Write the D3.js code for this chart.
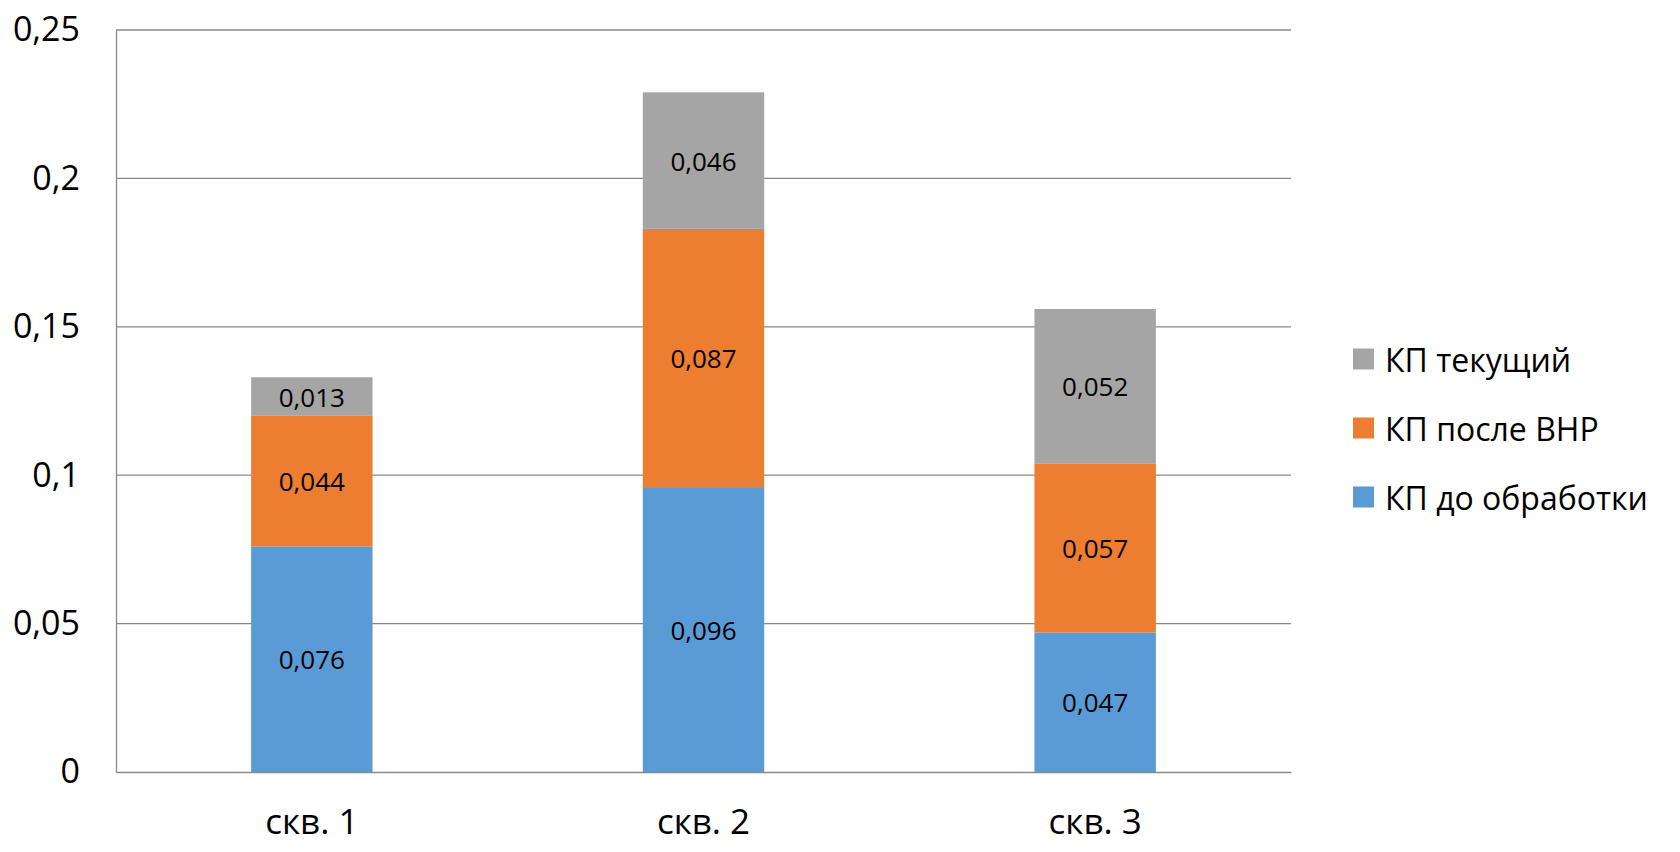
<!DOCTYPE html>
<html>
<head>
<meta charset="utf-8">
<script src="https://cdn.jsdelivr.net/npm/d3@7"></script>
<style>
  body { margin: 0; background: #fff; }
  text { font-family: "Open Sans", "Noto Sans", sans-serif; fill: #000; }
</style>
</head>
<body>
<div id="chart"></div>
<script>
const wells = ["скв. 1", "скв. 2", "скв. 3"];
const seriesNames = ["КП до обработки", "КП после ВНР", "КП текущий"];
const before = [0.076, 0.096, 0.047];
const afterVnr = [0.044, 0.087, 0.057];
const current = [0.013, 0.046, 0.052];
const yTicks = [0, 0.05, 0.1, 0.15, 0.2, 0.25];
const colors = ["#5b9bd5", "#ed7d31", "#a5a5a5"];

const W = 1680, H = 852;
const margin = {left: 116, right: 389, top: 30, bottom: 80};

const svg = d3.select("#chart").append("svg")
    .attr("width", W)
    .attr("height", H);

const x = d3.scaleBand()
    .domain(wells)
    .range([margin.left, W - margin.right])
    .paddingInner(0.69)
    .paddingOuter(0.345);

const y = d3.scaleLinear()
    .domain([0, 0.25])
    .range([H - margin.bottom, margin.top]);

const fmt = v => String(v).replace(".", ",");

// gridlines
svg.append("g")
    .selectAll("line")
    .data(yTicks.slice(1))
    .enter().append("line")
        .attr("x1", margin.left)
        .attr("x2", W - margin.right)
        .attr("y1", d => y(d))
        .attr("y2", d => y(d))
        .attr("stroke", "#898989")
        .attr("stroke-width", 1.3);

// stacked data
const rows = wells.map((w, i) => ({well: w, s0: before[i], s1: afterVnr[i], s2: current[i]}));
const stack = d3.stack().keys(["s0", "s1", "s2"])(rows);

const layers = svg.append("g").selectAll("g")
    .data(stack)
    .enter().append("g")
        .attr("fill", (d, i) => colors[i]);

layers.selectAll("rect")
    .data(d => d)
    .enter().append("rect")
        .attr("x", d => x(d.data.well))
        .attr("width", x.bandwidth())
        .attr("y", d => y(d[1]))
        .attr("height", d => y(d[0]) - y(d[1]));

layers.selectAll("text")
    .data(d => d)
    .enter().append("text")
        .attr("x", d => x(d.data.well) + x.bandwidth() / 2)
        .attr("y", d => (y(d[0]) + y(d[1])) / 2)
        .attr("text-anchor", "middle")
        .attr("dominant-baseline", "central")
        .attr("font-size", 26)
        .text(d => fmt(+(d[1] - d[0]).toFixed(3)));

// axis lines
const yAxis = svg.append("g")
    .attr("transform", `translate(${margin.left},0)`)
    .call(d3.axisLeft(y).tickValues(yTicks).tickFormat(fmt).tickSize(0).tickPadding(36));
yAxis.select(".domain").attr("stroke", "#898989").attr("stroke-width", 1.3);
yAxis.selectAll("text").attr("font-size", 34).attr("fill", "#000");

const xAxis = svg.append("g")
    .attr("transform", `translate(0,${H - margin.bottom})`)
    .call(d3.axisBottom(x).tickSize(0).tickPadding(37));
xAxis.select(".domain").attr("stroke", "#898989").attr("stroke-width", 1.3);
xAxis.selectAll("text").attr("font-size", 35).attr("fill", "#000");

// legend
const legendOrder = [2, 1, 0];
const legend = svg.append("g").selectAll("g")
    .data(legendOrder)
    .enter().append("g")
        .attr("transform", (d, i) => `translate(1353,${359 + i * 69})`);
legend.append("rect")
    .attr("x", 0).attr("y", -10.5)
    .attr("width", 21).attr("height", 21)
    .attr("fill", d => colors[d]);
legend.append("text")
    .attr("x", 32)
    .attr("dominant-baseline", "central")
    .attr("font-size", 32)
    .text(d => seriesNames[d]);
</script>
</body>
</html>
